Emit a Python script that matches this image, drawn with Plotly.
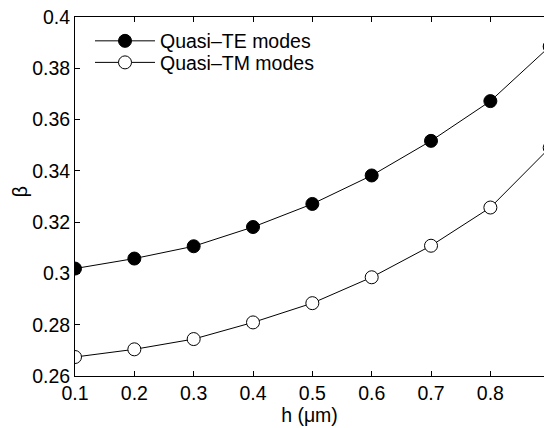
import plotly.graph_objects as go

h = [0.1, 0.2, 0.3, 0.4, 0.5, 0.6, 0.7, 0.8, 0.9]
beta_te = [0.3019, 0.3058, 0.3106, 0.3181, 0.3271, 0.3382, 0.3517, 0.3672, 0.3885]
beta_tm = [0.2674, 0.2704, 0.2744, 0.2809, 0.2884, 0.2985, 0.3108, 0.3257, 0.3490]
x_ticks = [0.1, 0.2, 0.3, 0.4, 0.5, 0.6, 0.7, 0.8, 0.9]
x_tick_text = ["0.1", "0.2", "0.3", "0.4", "0.5", "0.6", "0.7", "0.8", "0.9"]
y_ticks = [0.26, 0.28, 0.30, 0.32, 0.34, 0.36, 0.38, 0.40]
y_tick_text = ["0.26", "0.28", "0.3", "0.32", "0.34", "0.36", "0.38", "0.4"]

FONT = "Liberation Sans, Arial, Helvetica, sans-serif"
FS = 19.5

fig = go.Figure()
fig.add_trace(go.Scatter(
    x=h, y=beta_te, mode="lines+markers", name="Quasi\u2013TE modes",
    line=dict(color="black", width=1),
    marker=dict(symbol="circle", size=13, color="black", line=dict(color="black", width=1)),
    legend="legend",
))
fig.add_trace(go.Scatter(
    x=h, y=beta_tm, mode="lines+markers", name="Quasi\u2013TM modes",
    line=dict(color="black", width=1),
    marker=dict(symbol="circle", size=13, color="white", line=dict(color="black", width=1)),
    legend="legend2",
))

leg_common = dict(
    xanchor="left", yanchor="top", xref="paper", yref="paper",
    bgcolor="rgba(255,255,255,0)", borderwidth=0,
    font=dict(family=FONT, size=FS, color="black"),
    itemwidth=60,
)

fig.update_layout(
    width=544, height=428,
    margin=dict(l=75, r=0, t=17, b=52),
    paper_bgcolor="white", plot_bgcolor="white",
    font=dict(family=FONT, size=FS, color="black"),
    showlegend=True,
    legend=dict(x=0.032, y=0.987, **leg_common),
    legend2=dict(x=0.032, y=0.927, **leg_common),
)
fig.add_annotation(
    text="\u03b2", xref="paper", yref="paper", x=-0.117, y=0.5125,
    xanchor="center", yanchor="middle", textangle=-90, showarrow=False,
    font=dict(family=FONT, size=FS, color="black"),
)
fig.update_xaxes(
    range=[0.1, 0.8904],
    tickmode="array", tickvals=x_ticks, ticktext=x_tick_text,
    ticks="inside", ticklen=5, tickwidth=1, tickcolor="black",
    showline=True, linecolor="black", linewidth=1, mirror="ticks",
    showgrid=False, zeroline=False,
    title=dict(text="h (\u03bcm)", standoff=0, font=dict(size=FS)),
    ticklabelstandoff=0,
)
fig.update_yaxes(
    range=[0.26, 0.40],
    tickmode="array", tickvals=y_ticks, ticktext=y_tick_text,
    ticks="inside", ticklen=5, tickwidth=1, tickcolor="black",
    showline=True, linecolor="black", linewidth=1, mirror=False,
    showgrid=False, zeroline=False,
)

fig.write_html("out.html")
